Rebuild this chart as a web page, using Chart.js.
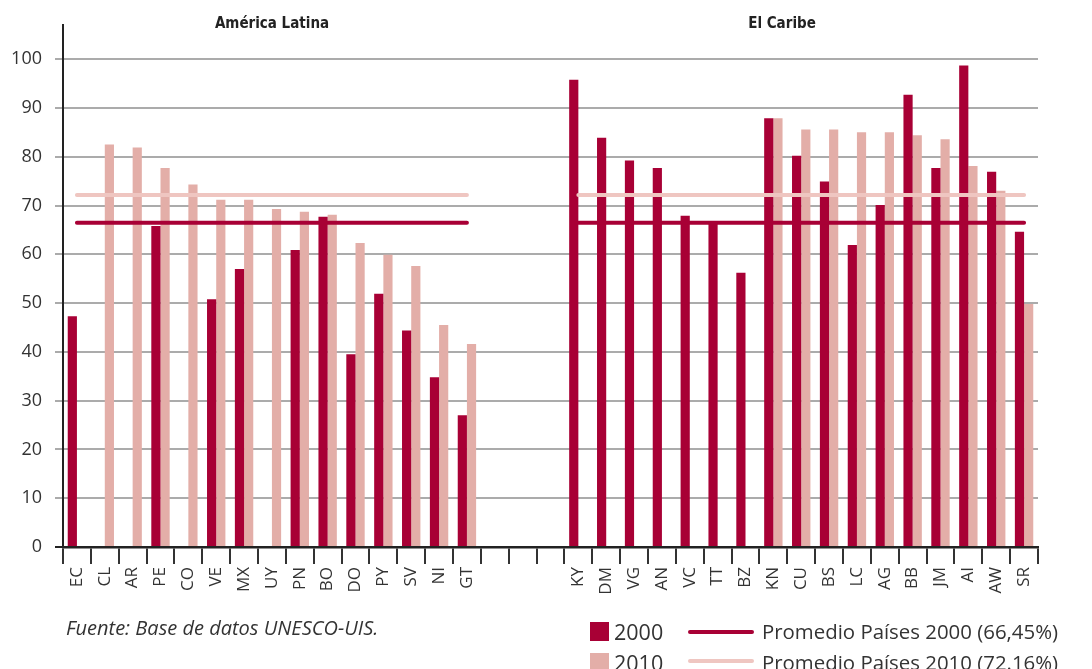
<!DOCTYPE html>
<html>
<head>
<meta charset="utf-8">
<script src="https://cdn.jsdelivr.net/npm/chart.js@4/dist/chart.umd.min.js"></script>
<style>
  html, body { margin: 0; padding: 0; background: #fff; }
  #wrap { position: relative; width: 1092px; height: 669px; overflow: hidden; font-family: "Open Sans", sans-serif; color: #333; }
  canvas { position: absolute; left: 0; top: 0; }
  .title { position: absolute; top: 14px; font-family: "DejaVu Sans Condensed", "Open Sans", sans-serif; font-weight: bold; font-size: 15px; color: #222; transform: translateX(-50%); white-space: nowrap; }
  .note { position: absolute; left: 66px; top: 614px; font-style: italic; font-size: 20px; color: #333; white-space: nowrap; }
  .lg { position: absolute; font-size: 20.4px; color: #333; white-space: nowrap; line-height: 1; }
  .sq { position: absolute; width: 19px; height: 19px; }
  .ln { position: absolute; height: 4px; border-radius: 2px; width: 66px; }
</style>
</head>
<body>
<div id="wrap">
  <canvas id="c" width="1092" height="669"></canvas>
  <div class="title" style="left:272px">América Latina</div>
  <div class="title" style="left:782px">El Caribe</div>
  <div class="note">Fuente: Base de datos UNESCO-UIS.</div>
  <div class="sq" style="left:590px; top:622px; background:#A80035"></div>
  <div class="lg" style="left:614px; top:621px; font-size:21.5px">2000</div>
  <div class="sq" style="left:590px; top:653px; background:#E3AEA8"></div>
  <div class="lg" style="left:614px; top:652px; font-size:21.5px">2010</div>
  <div class="ln" style="left:688px; top:630px; background:#A80035"></div>
  <div class="lg" style="left:762px; top:621px">Promedio Países 2000 (66,45%)</div>
  <div class="ln" style="left:688px; top:659px; background:#EFC6C1"></div>
  <div class="lg" style="left:762px; top:652px">Promedio Países 2010 (72.16%)</div>
</div>
<script>
// Categories
const latamLabels = ['EC','CL','AR','PE','CO','VE','MX','UY','PN','BO','DO','PY','SV','NI','GT'];
const gapLabels = ['', '', ''];
const caribeLabels = ['KY','DM','VG','AN','VC','TT','BZ','KN','CU','BS','LC','AG','BB','JM','AI','AW','SR'];

// Series values (%)
const latam2000 = [47.3, null, null, 65.8, null, 50.8, 57.0, null, 60.9, 67.7, 39.5, 51.9, 44.4, 34.8, 27.0];
const latam2010 = [null, 82.5, 81.9, 77.7, 74.3, 71.2, 71.2, 69.3, 68.7, 68.1, 62.3, 59.9, 57.6, 45.5, 41.6];
const caribe2000 = [95.8, 83.9, 79.2, 77.7, 67.9, 66.6, 56.2, 87.9, 80.2, 74.9, 61.9, 70.1, 92.7, 77.7, 98.7, 76.9, 64.6];
const caribe2010 = [null, null, null, null, null, null, null, 87.9, 85.6, 85.6, 85.0, 85.0, 84.4, 83.6, 78.1, 73.0, 49.8];

// Averages
const avg2000 = 66.45;
const avg2010 = 72.16;

// Y tick settings
const yMin = 0, yMax = 107, yStep = 10;

const labels = [...latamLabels, ...gapLabels, ...caribeLabels];
const gapNulls = gapLabels.map(() => null);
const s2000 = [...latam2000, ...gapNulls, ...caribe2000];
const s2010 = [...latam2010, ...gapNulls, ...caribe2010];
const line2000 = [...latamLabels.map(() => avg2000), ...gapNulls, ...caribeLabels.map(() => avg2000)];
const line2010 = [...latamLabels.map(() => avg2010), ...gapNulls, ...caribeLabels.map(() => avg2010)];

const DARK = '#A80035', PINK = '#E3AEA8', PINK_LINE = '#EFC6C1';

new Chart(document.getElementById('c'), {
  type: 'bar',
  data: {
    labels,
    datasets: [
      { type: 'line', label: 'Promedio 2000', data: line2000, borderColor: DARK, borderWidth: 4, pointRadius: 0, fill: false, spanGaps: false, borderCapStyle: 'round', order: 1 },
      { type: 'line', label: 'Promedio 2010', data: line2010, borderColor: PINK_LINE, borderWidth: 4, pointRadius: 0, fill: false, spanGaps: false, borderCapStyle: 'round', order: 1 },
      { label: '2000', data: s2000, backgroundColor: DARK, categoryPercentage: 0.66, barPercentage: 1.0, order: 2 },
      { label: '2010', data: s2010, backgroundColor: PINK, categoryPercentage: 0.66, barPercentage: 1.0, order: 2 }
    ]
  },
  options: {
    responsive: false,
    animation: false,
    layout: { padding: { top: 25, right: 54, bottom: 67, left: 0 } },
    plugins: { legend: { display: false }, tooltip: { enabled: false } },
    scales: {
      x: {
        offset: true,
        grid: { offset: true, drawOnChartArea: false, drawTicks: true, tickLength: 17, color: '#333', lineWidth: 2 },
        border: { display: true, color: '#222', width: 2.5 },
        ticks: { autoSkip: false, maxRotation: 90, minRotation: 90, padding: 3, color: '#333', font: { family: 'Open Sans', size: 17 } },
        afterFit: (s) => { s.height = 55; }
      },
      y: {
        min: yMin, max: yMax,
        ticks: { stepSize: yStep, includeBounds: false, padding: 13, color: '#333', font: { family: 'Open Sans', size: 18 } },
        grid: { color: (ctx) => ctx.tick && ctx.tick.value === 0 ? '#222' : '#ababab', lineWidth: 2, tickLength: 8 },
        border: { display: true, color: '#222', width: 2 },
        afterFit: (s) => { s.width = 63; }
      }
    }
  }
});
</script>
</body>
</html>
